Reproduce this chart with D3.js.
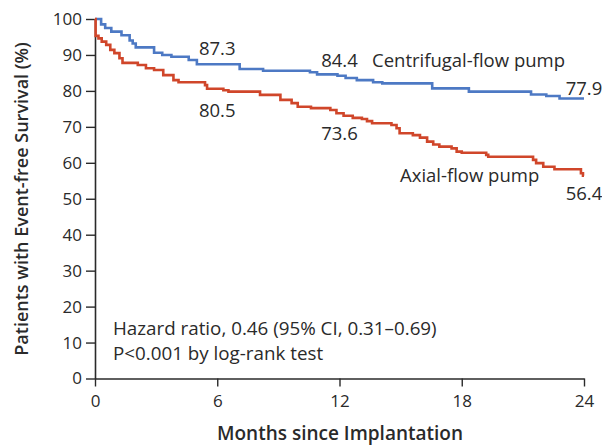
<!DOCTYPE html>
<html><head><meta charset="utf-8">
<script src="https://cdn.jsdelivr.net/npm/d3@7"></script>
<style>
html,body{margin:0;padding:0;background:#fff;}
svg{display:block;font-family:"Open Sans",sans-serif;}
</style></head>
<body>
<svg id="chart" width="602" height="446"></svg>
<script>
// Kaplan-Meier step data (months, % event-free survival)
const centrifugalMonths = [0,0.3,0.5,0.8,1.3,1.7,1.85,2.0,2.9,3.3,3.75,4.6,5.0,7.1,8.25,10.55,10.9,11.9,12.3,12.85,13.65,14.1,16.55,18.35,21.4,22.15,22.8,24];
const centrifugalSurv   = [100,98.5,97.5,96.5,95.5,94.0,93.2,92.1,90.6,90.0,89.5,88.6,87.4,86.1,85.6,85.2,84.6,84.2,83.6,83.0,82.4,82.1,80.7,79.8,79.0,78.6,77.9,77.9];
const axialMonths = [0,0.03,0.17,0.33,0.55,0.75,0.95,1.2,1.35,2.1,2.5,2.9,3.35,3.85,4.1,5.4,5.5,6.3,6.55,8.1,9.1,9.65,9.95,10.6,11.55,11.85,12.2,12.65,13.1,13.35,13.6,14.55,14.8,14.95,15.6,15.95,16.3,16.6,16.9,17.5,17.75,18.0,19.2,19.3,21.5,21.65,22.0,22.55,23.85,23.95,24];
const axialSurv   = [100,95.3,94.6,93.7,92.8,91.4,90.5,89.1,87.8,87.2,86.3,85.8,84.4,83.0,82.4,81.6,80.6,80.2,79.8,78.9,77.5,76.6,75.6,75.2,74.7,73.8,73.1,72.5,72.2,71.6,71.0,70.5,69.6,68.2,67.7,67.0,65.9,65.1,64.5,64.0,63.1,62.8,62.2,61.7,60.8,59.9,58.9,58.2,57.1,56.4,56.4];
const xTicks = [0,6,12,18,24];
const yTicks = [0,10,20,30,40,50,60,70,80,90,100];
// point labels: [month, value, text]
const centrifugalLabels = [[6,87.3,"87.3"],[12,84.4,"84.4"],[24,77.9,"77.9"]];
const axialLabels = [[6,80.5,"80.5"],[12,73.6,"73.6"],[24,56.4,"56.4"]];
const seriesNames = ["Centrifugal-flow pump","Axial-flow pump"];
const statsText = ["Hazard ratio, 0.46 (95% CI, 0.31\u20130.69)","P<0.001 by log-rank test"];

const svg = d3.select("#chart");
const x = d3.scaleLinear().domain([0,24]).range([95,584]);
const y = d3.scaleLinear().domain([0,100]).range([378.5,19]);
const ink = "#2a2a2a";
const blue = "#4d79c4", red = "#d0462a";
const fs = 18.5;

// axes
const xAxis = svg.append("g").attr("transform",`translate(0,${y(0)})`)
  .call(d3.axisBottom(x).tickValues(xTicks).tickSize(8).tickPadding(8).tickSizeOuter(0));
const yAxis = svg.append("g").attr("transform",`translate(${x(0)},0)`)
  .call(d3.axisLeft(y).tickValues(yTicks).tickSize(9).tickPadding(4).tickSizeOuter(0));
[xAxis,yAxis].forEach(a=>{
  a.select(".domain").attr("stroke",ink).attr("stroke-width",1.6);
  a.selectAll(".tick line").attr("stroke",ink).attr("stroke-width",1.4);
  a.selectAll(".tick text").attr("fill",ink).style("font-family","'Open Sans',sans-serif").style("font-size","17px");
});

// curves
const line = d3.line().x(d=>x(d[0])).y(d=>y(d[1])).curve(d3.curveStepAfter);
const cData = centrifugalMonths.map((m,i)=>[m,centrifugalSurv[i]]);
const aData = axialMonths.map((m,i)=>[m,axialSurv[i]]);
svg.append("path").datum(cData).attr("d",line).attr("fill","none").attr("stroke",blue).attr("stroke-width",2.6);
svg.append("path").datum(aData).attr("d",line).attr("fill","none").attr("stroke",red).attr("stroke-width",2.6);

function txt(xp,yp,t,opts={}){
  return svg.append("text").attr("x",xp).attr("y",yp).text(t)
    .attr("fill",ink).style("font-size",(opts.size||fs)+"px")
    .style("font-weight",opts.weight||400)
    .attr("text-anchor",opts.anchor||"start");
}
// value labels (centred on their time points, offset vertically)
const cOff = [-9.7,-8,-3.5], aOff = [28,26,24];
centrifugalLabels.forEach((d,i)=>txt(x(d[0]), y(d[1])+cOff[i], d[2], {anchor:"middle"}));
axialLabels.forEach((d,i)=>txt(x(d[0]), y(d[1])+aOff[i], d[2], {anchor:"middle"}));
txt(372, 67, seriesNames[0]);
txt(400, 182, seriesNames[1]);
txt(113, 335, statsText[0], {size:18.8});
txt(113, 360, statsText[1], {size:18.8});

// axis titles
txt(340, 440, "Months since Implantation", {size:19, weight:600, anchor:"middle"});
svg.append("text").attr("transform","translate(28,199) rotate(-90)")
  .attr("text-anchor","middle").attr("fill",ink)
  .style("font-size","18px").style("font-weight",600)
  .text("Patients with Event-free Survival (%)");
</script>
</body></html>
